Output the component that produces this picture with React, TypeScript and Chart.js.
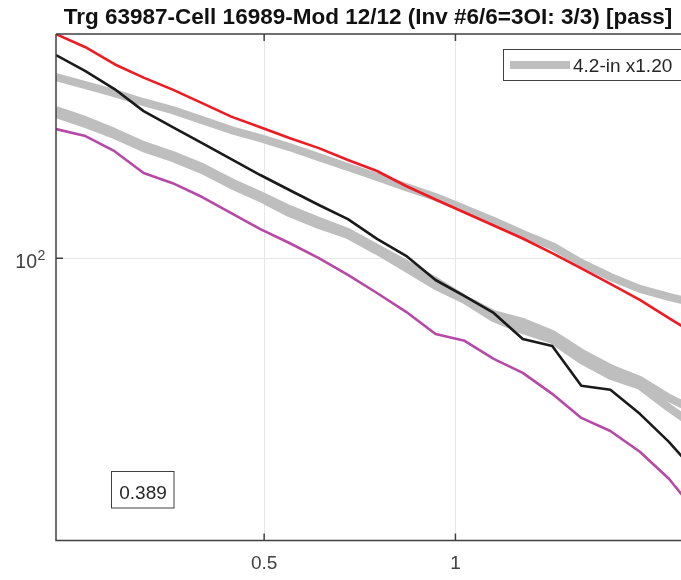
import React, { useEffect, useRef } from "react";
import { Chart, registerables } from "chart.js";

Chart.register(...registerables);

// ---- data ----
const xValues = [
  -0.044, 0.033, 0.109, 0.185, 0.261, 0.338, 0.414, 0.49, 0.566, 0.643, 0.719, 0.795,
  0.871, 0.948, 1.024, 1.1, 1.176, 1.253, 1.329, 1.405, 1.482, 1.558, 1.634,
];
const redValues = [
  277, 261, 241.6, 227.3, 215.3, 202.4, 190.4, 181.5, 172.7, 165.0, 156.3, 148.7,
  138.9, 130.6, 123.1, 116.1, 109.4, 102.4, 95.5, 89.0, 82.8, 76.2, 70.3,
];
const blackValues = [
  251.8, 234.1, 215.8, 195.2, 181.5, 168.8, 157.0, 146.0, 136.4, 127.4, 119.5, 109.2,
  101.1, 90.6, 84.2, 78.0, 69.3, 67.1, 56.0, 55.0, 49.3, 43.4, 37.4,
];
const magentaValues = [
  179.9, 174.3, 162.7, 147.3, 140.7, 132.1, 122.8, 114.2, 107.2, 100.1, 92.7, 85.4,
  78.4, 70.9, 68.7, 63.3, 59.4, 54.0, 48.4, 45.6, 41.5, 36.7, 31.2,
];
const grayUpper = [
  227.8, 219.7, 211.8, 203.3, 196.1, 187.4, 179.1, 172.7, 165.8, 158.4, 151.4, 144.7,
  138.2, 132.1, 125.1, 118.5, 111.7, 105.7, 97.9, 91.9, 87.0, 83.9, 81.3,
];
const grayLowerA = [
  196.1, 187.4, 177.5, 167.3, 159.9, 151.4, 141.4, 133.3, 125.1, 118.5, 112.7, 104.8,
  97.5, 90.2, 83.1, 77.6, 74.9, 70.9, 65.1, 60.7, 57.5, 53.0, 49.7,
];
const grayLowerB = [
  192.6, 184.1, 175.1, 165.0, 157.7, 149.4, 139.5, 131.5, 122.8, 116.3, 111.2, 103.4,
  95.7, 88.2, 82.8, 76.2, 72.2, 69.0, 63.0, 58.6, 56.0, 50.7, 46.2,
];
const xTicks = [0.5, 1];
const xTickLabels = ["0.5", "1"];
const yTicks = [100];
const yTickBase = ["10"];
const yTickExp = ["2"];
const titleText = "Trg 63987-Cell 16989-Mod 12/12 (Inv #6/6=3OI: 3/3) [pass]";
const legendLabel = "4.2-in x1.20";
const boxText = "0.389";

const X_MIN = -0.044;
const X_MAX = 1.634;
const Y_MIN = 27.72;
const Y_MAX = 277.2;

const FAMILY = '"Liberation Sans", Arial, Helvetica, sans-serif';
const GRAY = "#bebebf";

const decor = {
  id: "decor",
  afterDraw(chart: any) {
    const { ctx, chartArea: a, scales } = chart;
    const xs = scales.x;
    const ys = scales.y;
    ctx.save();
    // axes box
    ctx.strokeStyle = "#404040";
    ctx.lineWidth = 1.5;
    ctx.beginPath();
    ctx.moveTo(a.left, a.top);
    ctx.lineTo(a.right, a.top);
    ctx.moveTo(a.left, a.top);
    ctx.lineTo(a.left, a.bottom);
    ctx.lineTo(a.right, a.bottom);
    ctx.moveTo(a.right, a.top);
    ctx.lineTo(a.right, a.bottom);
    // ticks
    xTicks.forEach((v) => {
      const px = xs.getPixelForValue(v);
      ctx.moveTo(px, a.bottom);
      ctx.lineTo(px, a.bottom - 7);
      ctx.moveTo(px, a.top);
      ctx.lineTo(px, a.top + 7);
    });
    yTicks.forEach((v) => {
      const py = ys.getPixelForValue(v);
      ctx.moveTo(a.left, py);
      ctx.lineTo(a.left + 7, py);
      ctx.moveTo(a.right, py);
      ctx.lineTo(a.right - 7, py);
    });
    ctx.stroke();

    // tick labels
    ctx.fillStyle = "#404040";
    ctx.font = `19px ${FAMILY}`;
    ctx.textBaseline = "alphabetic";
    ctx.textAlign = "center";
    xTicks.forEach((v, i) => {
      const px = xs.getPixelForValue(v);
      ctx.fillText(xTickLabels[i], px, a.bottom + 28);
    });
    yTicks.forEach((v, i) => {
      const py = ys.getPixelForValue(v);
      ctx.font = `19.5px ${FAMILY}`;
      ctx.textAlign = "right";
      ctx.fillText(yTickBase[i], a.left - 19, py + 10);
      ctx.font = `14px ${FAMILY}`;
      ctx.textAlign = "left";
      ctx.fillText(yTickExp[i], a.left - 18.5, py + 2);
    });

    // title
    ctx.fillStyle = "#111111";
    ctx.font = `bold 22.5px ${FAMILY}`;
    ctx.textAlign = "center";
    ctx.fillText(titleText, 368, 24);

    // legend
    const lx = 503.5;
    const ly = 49.5;
    ctx.fillStyle = "#ffffff";
    ctx.fillRect(lx, ly, 240, 31);
    ctx.strokeStyle = "#404040";
    ctx.lineWidth = 1;
    ctx.strokeRect(lx, ly, 240, 31);
    ctx.strokeStyle = GRAY;
    ctx.lineWidth = 8;
    ctx.beginPath();
    ctx.moveTo(510, 65);
    ctx.lineTo(570, 65);
    ctx.stroke();
    ctx.fillStyle = "#262626";
    ctx.font = `19px ${FAMILY}`;
    ctx.textAlign = "left";
    ctx.fillText(legendLabel, 573, 72);

    // text box
    ctx.fillStyle = "#ffffff";
    ctx.fillRect(111.5, 471.5, 62.5, 36.5);
    ctx.strokeStyle = "#404040";
    ctx.lineWidth = 1;
    ctx.strokeRect(111.5, 471.5, 62.5, 36.5);
    ctx.fillStyle = "#262626";
    ctx.textAlign = "center";
    ctx.fillText(boxText, 143, 498.5);
    ctx.restore();
  },
};

function series(vals: number[]) {
  return xValues.map((x, i) => ({ x, y: vals[i] }));
}

export default function App() {
  const ref = useRef<HTMLCanvasElement | null>(null);
  useEffect(() => {
    if (!ref.current) return;
    const thin = { pointRadius: 0, tension: 0, clip: 0, borderWidth: 2.6, order: 0, borderJoinStyle: "round" };
    const thick = { pointRadius: 0, tension: 0, clip: 0, borderWidth: 8, order: 1, borderColor: GRAY, borderJoinStyle: "round" };
    const chart = new Chart(ref.current, {
      type: "line",
      data: {
        datasets: [
          { ...thin, label: "red", data: series(redValues), borderColor: "#ee1b22" },
          { ...thin, label: "black", data: series(blackValues), borderColor: "#1a1a1a" },
          { ...thin, label: "magenta", data: series(magentaValues), borderColor: "#b848a8" },
          { ...thick, label: legendLabel, data: series(grayUpper) },
          { ...thick, label: "gray2", data: series(grayLowerA) },
          { ...thick, label: "gray3", data: series(grayLowerB) },
        ] as any,
      },
      options: {
        animation: false,
        responsive: false,
        maintainAspectRatio: false,
        layout: { padding: { top: 34, right: 2, left: 0, bottom: 0 } },
        plugins: { legend: { display: false }, tooltip: { enabled: false }, title: { display: false } },
        scales: {
          x: {
            type: "linear",
            min: X_MIN,
            max: X_MAX,
            afterBuildTicks: (s: any) => {
              s.ticks = xTicks.map((v) => ({ value: v }));
            },
            afterFit: (s: any) => {
              s.height = 39.5;
            },
            ticks: { display: false },
            grid: { color: "#e6e6e6", lineWidth: 1, drawTicks: false },
            border: { display: false },
          },
          y: {
            type: "logarithmic",
            min: Y_MIN,
            max: Y_MAX,
            afterBuildTicks: (s: any) => {
              s.ticks = yTicks.map((v) => ({ value: v }));
            },
            afterFit: (s: any) => {
              s.width = 56;
            },
            ticks: { display: false },
            grid: { color: "#e6e6e6", lineWidth: 1, drawTicks: false },
            border: { display: false },
          },
        },
      } as any,
      plugins: [decor],
    });
    return () => chart.destroy();
  }, []);
  return (
    <div style={{ position: "absolute", left: 0, top: 0, width: 681, height: 580, overflow: "hidden", background: "#fff" }}>
      <canvas ref={ref} width={700} height={580} style={{ display: "block", width: 700, height: 580 }} />
    </div>
  );
}
